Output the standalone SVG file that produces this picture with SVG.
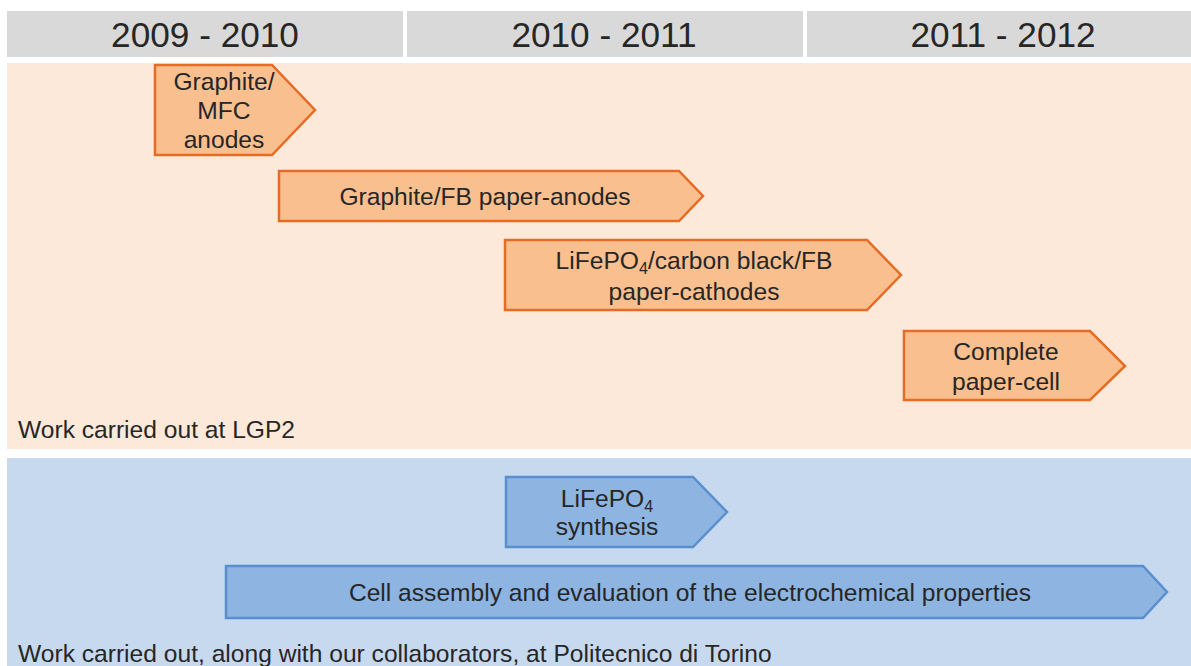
<svg xmlns="http://www.w3.org/2000/svg" width="1191" height="666" viewBox="0 0 1191 666">
<style>
text{font-family:"Liberation Sans",Arial,sans-serif;fill:#262626}
.hdr{fill:#d9d9d9}
.yr{font-size:35.2px;text-anchor:middle}
.t{font-size:24.6px;text-anchor:middle}
.lbl{font-size:24.6px}
.o{fill:#f9bf8f;stroke:#e46c24;stroke-width:2.5;stroke-linejoin:miter}
.b{fill:#8eb4e1;stroke:#5a8fcf;stroke-width:2.5;stroke-linejoin:miter}
.sub{font-size:16px}
</style>
<rect width="1191" height="666" fill="#ffffff"/>
<g id="headers">
<rect class="hdr" x="7" y="11" width="396" height="46"/>
<rect class="hdr" x="407" y="11" width="396" height="46"/>
<rect class="hdr" x="807" y="11" width="384" height="46"/>
<text class="yr" x="205" y="47">2009 - 2010</text>
<text class="yr" x="604" y="47">2010 - 2011</text>
<text class="yr" x="1003" y="47">2011 - 2012</text>
</g>
<g id="panel-lgp2">
<rect x="7" y="63" width="1184" height="386" fill="#fde9d9"/>
<text class="lbl" x="18" y="438">Work carried out at LGP2</text>
</g>
<g id="panel-torino">
<rect x="7" y="458" width="1184" height="208" fill="#c6d9ef"/>
<text class="lbl" x="18" y="662">Work carried out, along with our collaborators, at Politecnico di Torino</text>
</g>
<g id="connectors"></g>
<g id="node-graphite-mfc">
<polygon class="o" points="155,65 272,65 315,110 272,155 155,155"/>
<text class="t" x="224" y="90">Graphite/</text>
<text class="t" x="224" y="119">MFC</text>
<text class="t" x="224" y="148">anodes</text>
</g>
<g id="node-graphite-fb">
<polygon class="o" points="279,171 679,171 703,196 679,221 279,221"/>
<text class="t" x="485" y="205">Graphite/FB paper-anodes</text>
</g>
<g id="node-lifepo4-cathodes">
<polygon class="o" points="505,240 867,240 901,275 867,310 505,310"/>
<text class="t" x="694" y="269">LiFePO<tspan class="sub" dy="5">4</tspan><tspan dy="-5">/carbon black/FB</tspan></text>
<text class="t" x="694" y="300">paper-cathodes</text>
</g>
<g id="node-complete-cell">
<polygon class="o" points="904,331 1090,331 1125,366 1090,400 904,400"/>
<text class="t" x="1006" y="360">Complete</text>
<text class="t" x="1006" y="390">paper-cell</text>
</g>
<g id="node-lifepo4-synthesis">
<polygon class="b" points="506,477 693,477 727,512 693,547 506,547"/>
<text class="t" x="607" y="507">LiFePO<tspan class="sub" dy="5">4</tspan></text>
<text class="t" x="607" y="535">synthesis</text>
</g>
<g id="node-cell-assembly">
<polygon class="b" points="226,566 1143,566 1167,592 1143,618 226,618"/>
<text class="t" x="690" y="601">Cell assembly and evaluation of the electrochemical properties</text>
</g>
</svg>
